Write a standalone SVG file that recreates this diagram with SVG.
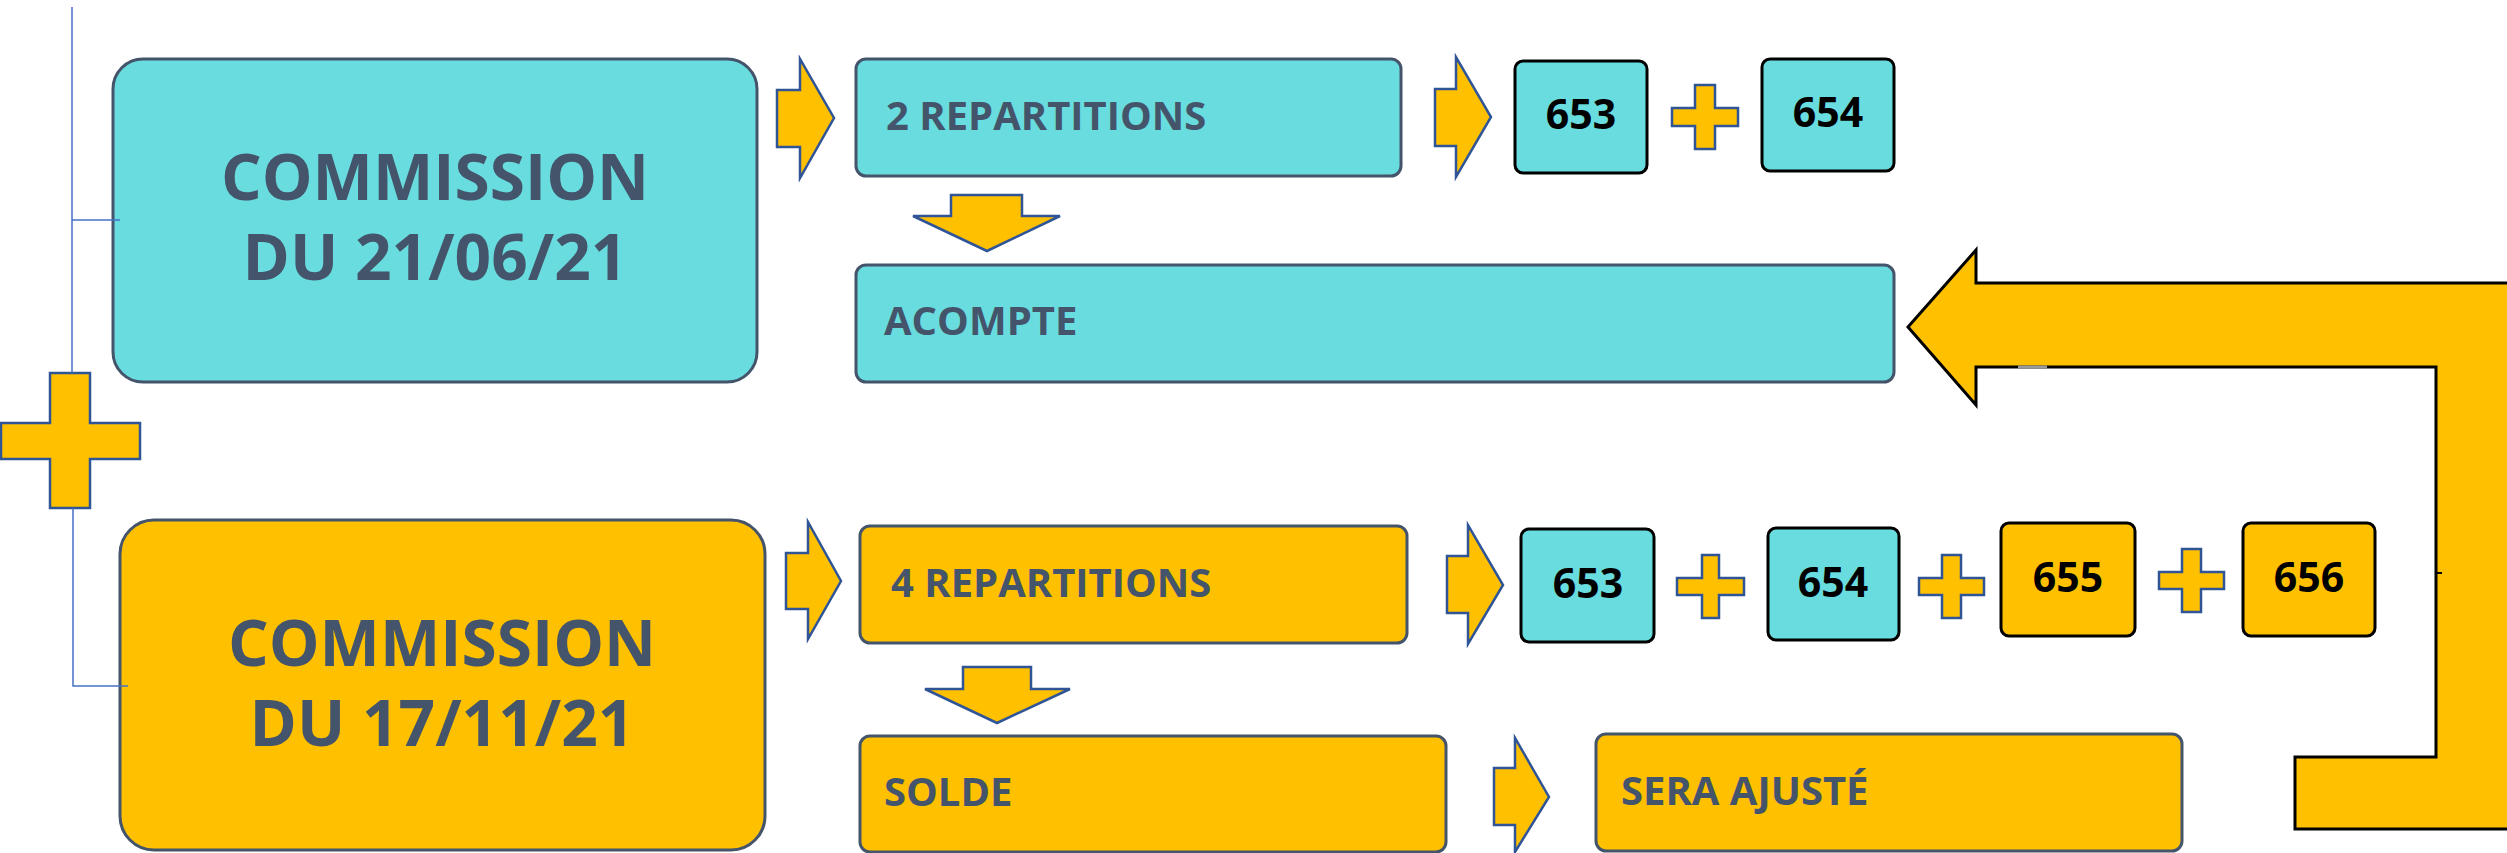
<svg xmlns="http://www.w3.org/2000/svg" width="2507" height="853" viewBox="0 0 2507 853">
<style>
.bg{fill:#ffffff}
.cy{fill:#68DCDE}
.ye{fill:#FFC000}
.box{stroke:#44546A;stroke-width:3}
.num{stroke:#000000;stroke-width:3}
.arr{fill:#FFC000;stroke:#2F5597;stroke-width:2.5;stroke-linejoin:miter}
.big{fill:#FFC000;stroke:#000000;stroke-width:3;stroke-linejoin:miter}
.ln{fill:none;stroke:#4472C4;stroke-width:1.5}
.t{font-family:"Open Sans","Liberation Sans",sans-serif;font-weight:bold;fill:#44546A}
.tc{font-size:64px;text-anchor:middle}
.tl{font-size:40px}
.tn{font-family:"Open Sans","Liberation Sans",sans-serif;font-weight:bold;fill:#000000;font-size:41px;text-anchor:middle}
</style>
<rect class="bg" x="0" y="0" width="2507" height="853"/>

<g id="commission1">
<rect class="cy box" x="113" y="59" width="644" height="323" rx="30"/>
<text class="t tc" x="435" y="200">COMMISSION</text>
<text class="t tc" x="435" y="280">DU 21/06/21</text>
</g>
<g id="commission2">
<rect class="ye box" x="120" y="520" width="645" height="330" rx="34"/>
<text class="t tc" x="442" y="666">COMMISSION</text>
<text class="t tc" x="442" y="746">DU 17/11/21</text>
</g>

<g id="repartitions2">
<rect class="cy box" x="856" y="59" width="545" height="117" rx="10"/>
<text class="t tl" x="886" y="130">2 REPARTITIONS</text>
</g>
<g id="acompte">
<rect class="cy box" x="856" y="265" width="1038" height="117" rx="10"/>
<text class="t tl" x="884" y="335">ACOMPTE</text>
</g>
<g id="repartitions4">
<rect class="ye box" x="860" y="526" width="547" height="117" rx="10"/>
<text class="t tl" x="891" y="597">4 REPARTITIONS</text>
</g>
<g id="solde">
<rect class="ye box" x="860" y="736" width="586" height="116" rx="10"/>
<text class="t tl" x="884" y="806">SOLDE</text>
</g>
<g id="sera-ajuste">
<rect class="ye box" x="1596" y="734" width="586" height="117" rx="10"/>
<text class="t tl" x="1621" y="805">SERA AJUSTÉ</text>
</g>

<g id="r1-653">
<rect class="cy num" x="1515" y="61" width="132" height="112" rx="8"/>
<text class="tn" x="1581" y="129">653</text>
</g>
<g id="r1-654">
<rect class="cy num" x="1762" y="59" width="132" height="112" rx="8"/>
<text class="tn" x="1828" y="127">654</text>
</g>
<g id="r2-653">
<rect class="cy num" x="1521" y="529" width="133" height="113" rx="8"/>
<text class="tn" x="1588" y="598">653</text>
</g>
<g id="r2-654">
<rect class="cy num" x="1768" y="528" width="131" height="112" rx="8"/>
<text class="tn" x="1833" y="597">654</text>
</g>
<g id="r2-655">
<rect class="ye num" x="2001" y="523" width="134" height="113" rx="8"/>
<text class="tn" x="2068" y="592">655</text>
</g>
<g id="r2-656">
<rect class="ye num" x="2243" y="523" width="132" height="113" rx="8"/>
<text class="tn" x="2309" y="592">656</text>
</g>

<g id="plus-signs">
<polygon class="arr" points="50,373 90,373 90,423 140,423 140,459 90,459 90,508 50,508 50,459 1,459 1,423 50,423"/>
<polygon class="arr" points="1695,85 1715,85 1715,108 1738,108 1738,126 1715,126 1715,149 1695,149 1695,126 1672,126 1672,108 1695,108"/>
<polygon class="arr" points="1702,555 1719,555 1719,578 1744,578 1744,595 1719,595 1719,618 1702,618 1702,595 1677,595 1677,578 1702,578"/>
<polygon class="arr" points="1942,555 1961,555 1961,578 1984,578 1984,595 1961,595 1961,618 1942,618 1942,595 1919,595 1919,578 1942,578"/>
<polygon class="arr" points="2182,549 2201,549 2201,572 2224,572 2224,589 2201,589 2201,612 2182,612 2182,589 2159,589 2159,572 2182,572"/>
</g>

<g id="connectors">
<path class="ln" d="M72,7 V373 M72,220 H120 M73,508 V686 H128"/>
<polygon class="arr" points="777,90 800,90 800,59 834,118 800,178 800,147 777,147"/>
<polygon class="arr" points="1435,89 1456,89 1456,57 1491,117 1456,177 1456,146 1435,146"/>
<polygon class="arr" points="786,553 808,553 808,522 841,581 808,639 808,609 786,609"/>
<polygon class="arr" points="1447,556 1468,556 1468,525 1503,585 1468,644 1468,613 1447,613"/>
<polygon class="arr" points="1494,768 1515,768 1515,738 1549,797 1515,852 1515,825 1494,825"/>
<polygon class="arr" points="951,195 1022,195 1022,216 1060,216 987,251 913,216 951,216"/>
<polygon class="arr" points="963,667 1031,667 1031,689 1070,689 997,723 925,689 963,689"/>
<polygon class="big" points="1908,327 1976,250 1976,283 2520,283 2520,829 2295,829 2295,757 2436,757 2436,367 1976,367 1976,405"/>
<path d="M2018,367 H2047" stroke="#9a9a9a" stroke-width="3" fill="none"/>
<path d="M2436,573 H2442" stroke="#000" stroke-width="2" fill="none"/>
</g>
</svg>
